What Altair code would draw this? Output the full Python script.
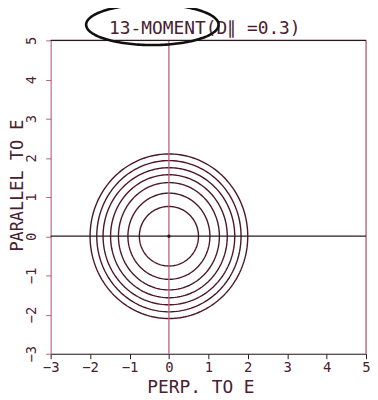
import numpy as np
import pandas as pd
import altair as alt

# contour half-widths (perp) and half-heights (parallel), data units
rx = [0.75, 1.04, 1.28, 1.48, 1.67, 1.83, 2.00]
ry = [0.76, 1.10, 1.37, 1.57, 1.75, 1.93, 2.10]
ticks = [-3, -2, -1, 0, 1, 2, 3, 4, 5]
title_text = ["13-MOMENT(D\u2225 =0.3)"]

# annotation placement (data units)
TITLE_X, TITLE_Y = 0.91, 5.17
oval_cx, oval_cy, oval_rx, oval_ry = -0.42, 5.40, 1.68, 0.52

ang = np.linspace(0, 2 * np.pi, 181)
rows = []
for k, (a, b) in enumerate(zip(rx, ry)):
    for i, t in enumerate(ang):
        rows.append({"lev": k, "i": i, "x": a * np.cos(t), "y": b * np.sin(t)})
cont = pd.DataFrame(rows)

oval = pd.DataFrame({
    "i": range(len(ang)),
    "x": oval_cx + oval_rx * np.cos(ang),
    "y": oval_cy + oval_ry * np.sin(ang),
})

TXT = "#4a2030"
PINK = "#b8607c"
DARK = "#2a1820"
FONT = "DejaVu Sans Mono"

xs = alt.Scale(domain=[-3, 5], nice=False, zero=False)
ys = alt.Scale(domain=[-3, 5], nice=False, zero=False)

xax = alt.Axis(values=ticks, tickSize=5, labelPadding=2, labelFontSize=14,
               labelFont=FONT, labelColor=TXT, domainColor=DARK, tickColor=DARK,
               labelOverlap=False, labelFlush=False, grid=False,
               title="PERP. TO E", titleFont=FONT, titleFontSize=18,
               titleFontWeight="normal", titleColor=TXT, titleX=151, titleY=34,
               titleBaseline="middle", titleAlign="center")
yax = alt.Axis(values=ticks, tickSize=5, labelPadding=7, labelFontSize=14,
               labelFont=FONT, labelColor=TXT, labelAngle=-90, labelAlign="center",
               labelBaseline="bottom", domainColor=PINK, tickColor=PINK,
               labelOverlap=False, labelFlush=False, grid=False,
               title="PARALLEL TO E", titleFont=FONT, titleFontSize=17,
               titleFontWeight="normal", titleColor=TXT, titleX=-33, titleY=146,
               titleAngle=-90, titleBaseline="middle", titleAlign="center")


def X(f):
    return alt.X(f, scale=xs, axis=xax)


def Y(f):
    return alt.Y(f, scale=ys, axis=yax)


contours = alt.Chart(cont).mark_line(color="#4a1828", strokeWidth=1.4).encode(
    x=X("x:Q"), y=Y("y:Q"), detail="lev:N", order="i:Q")

vlines = alt.Chart(pd.DataFrame({"v": [0, 5]})).mark_rule(color=PINK, strokeWidth=1.3).encode(
    x=X("v:Q"))
hlines = alt.Chart(pd.DataFrame({"h": [0, 5]})).mark_rule(color=DARK, strokeWidth=1.3).encode(
    y=Y("h:Q"))
dot = alt.Chart(pd.DataFrame({"x": [0], "y": [0]})).mark_point(
    filled=True, color=DARK, size=12, opacity=1).encode(x=X("x:Q"), y=Y("y:Q"))
ovl = alt.Chart(oval).mark_line(color="#101010", strokeWidth=2.6, clip=False).encode(
    x=X("x:Q"), y=Y("y:Q"), order="i:Q")
ttl = alt.Chart(pd.DataFrame({"t": title_text, "x": [TITLE_X], "y": [TITLE_Y]})).mark_text(
    font=FONT, fontSize=18, color=TXT, align="center", baseline="alphabetic", clip=False
).encode(x=X("x:Q"), y=Y("y:Q"), text="t:N")

chart = alt.layer(contours, vlines, hlines, dot, ttl, ovl).properties(
    width=318, height=316,
    autosize=alt.AutoSizeParams(type="none"),
    padding={"left": 43, "top": 31, "right": 4, "bottom": 44},
).configure_view(stroke=None).configure_axis(labelOverlap=False).configure(background="white")

chart.save("out.html", embed_options={"renderer": "svg", "actions": False})
